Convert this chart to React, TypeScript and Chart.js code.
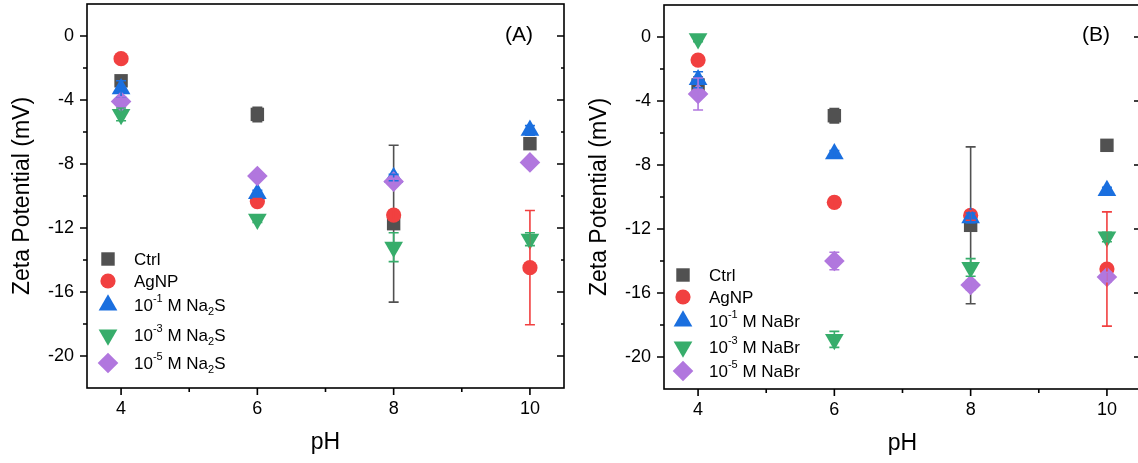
import React, { useEffect, useRef } from 'react';
import { Chart, registerables } from 'chart.js';

Chart.register(...registerables);

const FONT = "'Liberation Sans', Arial, Helvetica, sans-serif";

// ---------- data ----------
const pHValues = [4, 6, 8, 10];
const xTickValues = [4, 6, 8, 10];
const xMinorTicks = [5, 7, 9];
const yTickValues = [0, -4, -8, -12, -16, -20];
const yMinorTicks = [-2, -6, -10, -14, -18];

const labelsA = ['Ctrl', 'AgNP', '10^{-1} M Na_{2}S', '10^{-3} M Na_{2}S', '10^{-5} M Na_{2}S'];
const labelsB = ['Ctrl', 'AgNP', '10^{-1} M NaBr', '10^{-3} M NaBr', '10^{-5} M NaBr'];

// Panel A (Na2S)
const ctrlA = [-2.8, -4.9, -11.73, -6.73];
const ctrlErrA = [0.3, 0.45, 4.9, 0.2];
const agnpA = [-1.42, -10.35, -11.19, -14.48];
const agnpErrA = [0.2, 0.2, 0.3, 3.57];
const na2s1A = [-3.3, -9.85, -8.85, -5.9];
const na2s1ErrA = [0.5, 0.2, 0.2, 0.3];
const na2s3A = [-4.9, -11.45, -13.2, -12.7];
const na2s3ErrA = [0.4, 0.2, 0.9, 0.4];
const na2s5A = [-4.1, -8.75, -9.1, -7.9];
const na2s5ErrA = [0.3, 0.2, 0.2, 0.2];

// Panel B (NaBr)
const ctrlB = [-3.0, -4.92, -11.77, -6.77];
const ctrlErrB = [0.5, 0.45, 4.9, 0.2];
const agnpB = [-1.44, -10.33, -11.15, -14.5];
const agnpErrB = [0.2, 0.3, 0.3, 3.57];
const nabr1B = [-2.67, -7.3, -11.3, -9.6];
const nabr1ErrB = [0.5, 0.2, 0.3, 0.2];
const nabr3B = [-0.1, -18.9, -14.4, -12.5];
const nabr3ErrB = [0.2, 0.5, 0.55, 0.3];
const nabr5B = [-3.56, -14.0, -15.5, -15.0];
const nabr5ErrB = [1.0, 0.55, 0.3, 0.3];

// ---------- styles ----------
const colors = ['#515151', '#F14040', '#1A6FDF', '#37AD6B', '#B177DE'];
const pointStyles = ['rect', 'circle', 'triangle', 'triangle', 'rectRot'];
const pointRotations = [0, 0, 0, 180, 0];
const pointRadii = [9.5, 7.6, 10.8, 10.8, 10.3];

const SUP: Record<string, string> = { '-': '⁻', '0': '⁰', '1': '¹', '2': '²', '3': '³', '4': '⁴', '5': '⁵', '6': '⁶', '7': '⁷', '8': '⁸', '9': '⁹' };
const SUB: Record<string, string> = { '0': '₀', '1': '₁', '2': '₂', '3': '₃', '4': '₄', '5': '₅' };

type Part = { text: string; kind: 'n' | 'sup' | 'sub' };
function parseRich(label: string): Part[] {
  const parts: Part[] = [];
  const re = /\^\{([^}]*)\}|_\{([^}]*)\}|([^^_]+)/g;
  let m: RegExpExecArray | null;
  while ((m = re.exec(label))) {
    if (m[1] !== undefined) parts.push({ text: m[1], kind: 'sup' });
    else if (m[2] !== undefined) parts.push({ text: m[2], kind: 'sub' });
    else parts.push({ text: m[3], kind: 'n' });
  }
  return parts;
}
function toUnicode(label: string): string {
  return parseRich(label)
    .map((p) => (p.kind === 'sup' ? p.text.split('').map((c) => SUP[c] || c).join('') : p.kind === 'sub' ? p.text.split('').map((c) => SUB[c] || c).join('') : p.text))
    .join('');
}

function drawMarker(ctx: CanvasRenderingContext2D, style: string, rotationDeg: number, r: number, x: number, y: number) {
  let rad = (rotationDeg * Math.PI) / 180;
  ctx.beginPath();
  if (style === 'circle') {
    ctx.arc(x, y, r, 0, Math.PI * 2);
  } else if (style === 'rect') {
    const s = Math.SQRT1_2 * r;
    ctx.rect(x - s, y - s, 2 * s, 2 * s);
  } else if (style === 'triangle') {
    ctx.moveTo(x + Math.sin(rad) * r, y - Math.cos(rad) * r);
    rad += (2 * Math.PI) / 3;
    ctx.lineTo(x + Math.sin(rad) * r, y - Math.cos(rad) * r);
    rad += (2 * Math.PI) / 3;
    ctx.lineTo(x + Math.sin(rad) * r, y - Math.cos(rad) * r);
    ctx.closePath();
  } else if (style === 'rectRot') {
    ctx.moveTo(x - r, y);
    ctx.lineTo(x, y - r);
    ctx.lineTo(x + r, y);
    ctx.lineTo(x, y + r);
    ctx.closePath();
  }
  ctx.fill();
}

function drawErrors(chart: any, ds: any) {
  const { ctx, scales } = chart;
  const x = scales.x;
  const y = scales.y;
  ctx.save();
  ctx.strokeStyle = ds.errColor;
  ctx.lineWidth = 1.6;
  ds.data.forEach((p: any, i: number) => {
    const e = ds.errors[i];
    if (!e) return;
    const px = x.getPixelForValue(p.x);
    const y1 = y.getPixelForValue(p.y + e);
    const y2 = y.getPixelForValue(p.y - e);
    ctx.beginPath();
    ctx.moveTo(px, y1);
    ctx.lineTo(px, y2);
    ctx.moveTo(px - 5, y1);
    ctx.lineTo(px + 5, y1);
    ctx.moveTo(px - 5, y2);
    ctx.lineTo(px + 5, y2);
    ctx.stroke();
  });
  ctx.restore();
}

const decorPlugin = {
  id: 'decor',
  beforeDatasetsDraw(chart: any) {
    chart.data.datasets.forEach((ds: any, k: number) => {
      if (k === 0) drawErrors(chart, ds);
    });
  },
  afterDatasetsDraw(chart: any) {
    chart.data.datasets.forEach((ds: any, k: number) => {
      if (k !== 0) drawErrors(chart, ds);
    });
  },
  afterDraw(chart: any, _args: any, opts: any) {
    const { ctx, chartArea, scales } = chart;
    const { left, right, top, bottom } = chartArea;
    const x = scales.x;
    const y = scales.y;
    ctx.save();
    ctx.strokeStyle = '#000';
    ctx.lineWidth = 1.6;
    ctx.strokeRect(left, top, right - left, bottom - top);
    ctx.beginPath();
    // bottom ticks (outward)
    xTickValues.forEach((v) => {
      const px = x.getPixelForValue(v);
      ctx.moveTo(px, bottom);
      ctx.lineTo(px, bottom + 7);
    });
    xMinorTicks.forEach((v) => {
      const px = x.getPixelForValue(v);
      ctx.moveTo(px, bottom);
      ctx.lineTo(px, bottom + 4);
    });
    // left ticks (outward)
    yTickValues.forEach((v) => {
      const py = y.getPixelForValue(v);
      ctx.moveTo(left, py);
      ctx.lineTo(left - 7, py);
    });
    yMinorTicks.forEach((v) => {
      const py = y.getPixelForValue(v);
      ctx.moveTo(left, py);
      ctx.lineTo(left - 4, py);
    });
    // right ticks (inward)
    yTickValues.forEach((v) => {
      const py = y.getPixelForValue(v);
      ctx.moveTo(right, py);
      ctx.lineTo(right - 7, py);
    });
    yMinorTicks.forEach((v) => {
      const py = y.getPixelForValue(v);
      ctx.moveTo(right, py);
      ctx.lineTo(right - 3, py);
    });
    ctx.stroke();

    // panel label
    ctx.fillStyle = '#000';
    ctx.font = `21px ${FONT}`;
    ctx.textAlign = 'center';
    ctx.textBaseline = 'middle';
    ctx.fillText(opts.panelLabel, right - 45, top + opts.labelDy);

    // legend
    const main = 17;
    const small = 11;
    opts.legendLabels.forEach((label: string, k: number) => {
      const rowY = top + opts.legendRows[k];
      ctx.fillStyle = colors[k];
      drawMarker(ctx, pointStyles[k], pointRotations[k], pointRadii[k], left + opts.legendMarkerX, rowY);
      ctx.fillStyle = '#000';
      ctx.textAlign = 'left';
      ctx.textBaseline = 'alphabetic';
      const base = rowY + 0.36 * main;
      let cx = left + opts.legendTextX;
      parseRich(label).forEach((p) => {
        if (p.kind === 'n') {
          ctx.font = `${main}px ${FONT}`;
          ctx.fillText(p.text, cx, base);
        } else if (p.kind === 'sup') {
          ctx.font = `${small}px ${FONT}`;
          ctx.fillText(p.text, cx, base - 9);
        } else {
          ctx.font = `${small}px ${FONT}`;
          ctx.fillText(p.text, cx, base + 3.5);
        }
        cx += ctx.measureText(p.text).width;
      });
    });
    ctx.restore();
  },
};

function zeroPadding(s: any) {
  s.paddingTop = 0;
  s.paddingBottom = 0;
  s.paddingLeft = 0;
  s.paddingRight = 0;
}

function buildConfig(labels: string[], values: number[][], errors: number[][], decor: any): any {
  const datasets = values.map((vals, k) => ({
    label: toUnicode(labels[k]),
    data: pHValues.map((xv, i) => ({ x: xv, y: vals[i] })),
    errors: errors[k],
    errColor: colors[k],
    backgroundColor: colors[k],
    borderColor: colors[k],
    pointStyle: pointStyles[k],
    pointRotation: pointRotations[k],
    pointRadius: pointRadii[k],
    pointHoverRadius: pointRadii[k],
    pointBorderWidth: 0,
    showLine: false,
    order: 5 - k,
  }));
  return {
    type: 'scatter',
    data: { datasets },
    plugins: [decorPlugin],
    options: {
      animation: false,
      responsive: false,
      events: [],
      layout: { autoPadding: false, padding: { top: 4, right: 5, bottom: 0, left: 0 } },
      plugins: {
        legend: { display: false },
        tooltip: { enabled: false },
        decor: { ...decor, legendLabels: labels },
      },
      scales: {
        x: {
          type: 'linear',
          min: 3.5,
          max: 10.5,
          grid: { display: false },
          border: { display: false },
          afterBuildTicks: (s: any) => {
            s.ticks = xTickValues.map((v) => ({ value: v }));
          },
          afterFit: (s: any) => {
            s.height = 75;
            zeroPadding(s);
          },
          ticks: {
            font: { size: 18, family: FONT },
            color: '#000',
            padding: 2,
            autoSkip: false,
            maxRotation: 0,
            callback: (v: any) => String(v),
          },
          title: {
            display: true,
            text: 'pH',
            font: { size: 23, family: FONT },
            color: '#000',
            padding: { top: 0, bottom: 7 },
          },
        },
        y: {
          type: 'linear',
          min: -22,
          max: 2,
          grid: { display: false },
          border: { display: false },
          afterBuildTicks: (s: any) => {
            s.ticks = yTickValues.map((v) => ({ value: v }));
          },
          afterFit: (s: any) => {
            s.width = 87;
            zeroPadding(s);
          },
          ticks: {
            font: { size: 18, family: FONT },
            color: '#000',
            padding: 5,
            autoSkip: false,
            callback: (v: any) => String(v),
          },
          title: {
            display: true,
            text: 'Zeta Potential (mV)',
            font: { size: 23, family: FONT },
            color: '#000',
            padding: { top: 9, bottom: 0 },
          },
        },
      },
    },
  };
}

function Panel(props: { config: any; left: number; top: number }) {
  const ref = useRef<HTMLCanvasElement | null>(null);
  useEffect(() => {
    if (!ref.current) return;
    const chart = new Chart(ref.current, props.config);
    return () => chart.destroy();
  }, []);
  return (
    <canvas
      ref={ref}
      width={569}
      height={463}
      style={{ position: 'absolute', left: props.left, top: props.top, width: 569, height: 463 }}
    />
  );
}

export default function App() {
  const configA = buildConfig(
    labelsA,
    [ctrlA, agnpA, na2s1A, na2s3A, na2s5A],
    [ctrlErrA, agnpErrA, na2s1ErrA, na2s3ErrA, na2s5ErrA],
    { panelLabel: '(A)', labelDy: 31, legendMarkerX: 21, legendTextX: 47, legendRows: [255, 277, 301, 331, 359] }
  );
  const configB = buildConfig(
    labelsB,
    [ctrlB, agnpB, nabr1B, nabr3B, nabr5B],
    [ctrlErrB, agnpErrB, nabr1ErrB, nabr3ErrB, nabr5ErrB],
    { panelLabel: '(B)', labelDy: 30, legendMarkerX: 19, legendTextX: 45, legendRows: [270, 292, 316, 342, 366] }
  );
  return (
    <div style={{ position: 'absolute', left: 0, top: 0, width: 1138, height: 463, overflow: 'hidden', background: '#fff' }}>
      <Panel config={configA} left={0} top={0} />
      <Panel config={configB} left={577} top={1} />
    </div>
  );
}
